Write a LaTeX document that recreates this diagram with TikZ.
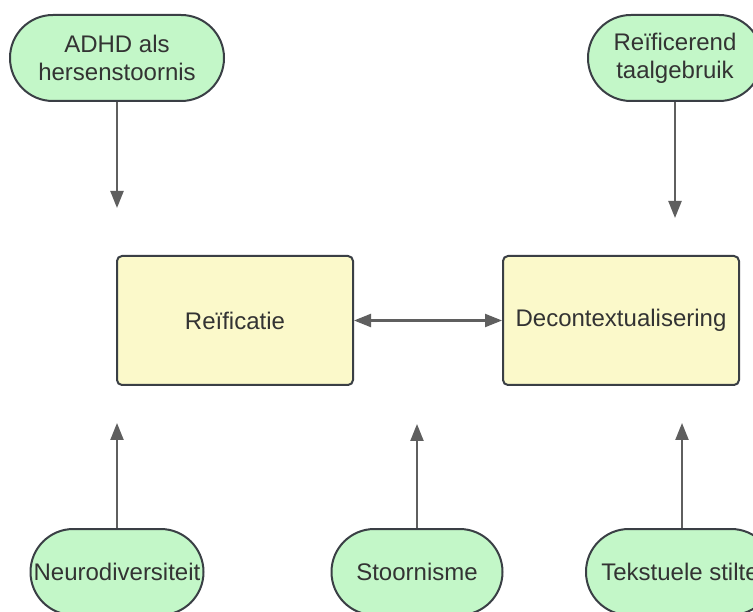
\documentclass[tikz,border=0pt]{standalone}
\usepackage{fontspec}
\setmainfont{Liberation Sans}
\usetikzlibrary{arrows.meta}
\definecolor{pillgreen}{HTML}{C3F7C8}
\definecolor{boxyellow}{HTML}{FBF9CA}
\definecolor{edgegray}{HTML}{3A3F45}
\definecolor{arrowgray}{HTML}{5F5F5F}
\definecolor{txt}{HTML}{333333}
\begin{document}
\begin{tikzpicture}[x=1pt,y=-1pt,
  lbl/.style={text=txt, font=\fontsize{24}{28}\selectfont, align=center, inner sep=0pt},
  pill/.style={lbl, draw=edgegray, line width=2pt, fill=pillgreen, rounded corners=42.9pt, minimum height=86pt},
  core/.style={lbl, draw=edgegray, line width=2pt, fill=boxyellow, rounded corners=5pt, minimum width=236pt, minimum height=129pt},
  conn/.style={draw=arrowgray, line width=2.2pt, -{Triangle[length=17pt,width=13pt]}},
  both/.style={draw=arrowgray, line width=2.2pt, {Triangle[length=17pt,width=13pt]}-{Triangle[length=17pt,width=13pt]}}]
\useasboundingbox (0,0) rectangle (753,612);
\clip (0,0) rectangle (753,612);
\fill[white] (0,0) rectangle (753,612);
% top pills
\node[pill, minimum width=214pt] (adhd) at (117,58) {ADHD als\\hersenstoornis};
\node[pill, minimum width=174pt] (taal) at (675,58) {Reïficerend\\taalgebruik};
% core boxes
\node[core] (reif) at (235,320.5) {Reïficatie};
\node[core] (decon) at (621,320.5) {Decontextualisering};
% bottom pills
\node[pill, minimum width=173pt] (neuro) at (117,572) {Neurodiversiteit};
\node[pill, minimum width=171pt] (stoor) at (417,572) {Stoornisme};
\node[pill, minimum width=188pt] (stilte) at (680,572) {Tekstuele stilte};
% free ends
\coordinate (e1) at (117,208);
\coordinate (e2) at (675,218);
\coordinate (e3) at (117,423);
\coordinate (e4) at (417,424);
\coordinate (e5) at (682,423);
% connectors
\draw[conn] (adhd.south) -- (e1);
\draw[conn] (taal.south) -- (e2);
\draw[conn] (neuro.north) -- (e3);
\draw[conn] (stoor.north) -- (e4);
\draw[conn] (stilte.north -| e5) -- (e5);
\draw[both] (reif.east) -- (decon.west);
\end{tikzpicture}
\end{document}
